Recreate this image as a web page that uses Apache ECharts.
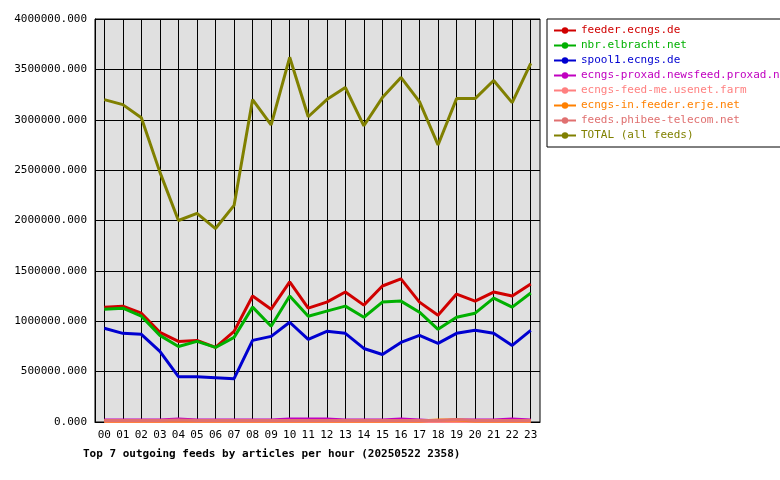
<!DOCTYPE html>
<html>
<head>
<meta charset="utf-8">
<script src="https://cdn.jsdelivr.net/npm/echarts@6/dist/echarts.min.js"></script>
<style>html,body{margin:0;background:#fff}#chart{width:780px;height:480px}</style>
</head>
<body>
<div id="chart"></div>
<script>
const hours = ['00','01','02','03','04','05','06','07','08','09','10','11','12','13','14','15','16','17','18','19','20','21','22','23'];
const feederEcngs = [1140000,1150000,1080000,890000,800000,810000,740000,900000,1250000,1120000,1390000,1130000,1190000,1290000,1160000,1350000,1420000,1190000,1060000,1270000,1200000,1290000,1250000,1370000];
const nbrElbracht = [1120000,1130000,1050000,860000,750000,800000,740000,840000,1140000,950000,1250000,1050000,1100000,1150000,1040000,1190000,1200000,1090000,920000,1040000,1080000,1230000,1140000,1280000];
const spool1 = [930000,880000,870000,700000,450000,450000,440000,430000,810000,850000,990000,820000,900000,880000,730000,670000,790000,860000,780000,880000,910000,880000,760000,910000];
const proxad = [20000,20000,20000,20000,30000,20000,20000,20000,20000,20000,30000,30000,30000,20000,20000,20000,30000,20000,10000,20000,20000,20000,30000,20000];
const usenetFarm = [5000,5000,5000,5000,5000,5000,5000,5000,5000,5000,5000,5000,5000,5000,5000,5000,5000,5000,5000,5000,5000,5000,5000,5000];
const erje = [10000,10000,10000,10000,10000,10000,10000,10000,10000,10000,10000,10000,10000,10000,10000,10000,10000,10000,20000,20000,10000,10000,10000,10000];
const phibee = [15000,15000,15000,15000,20000,15000,15000,15000,15000,15000,15000,15000,15000,15000,15000,15000,15000,15000,15000,25000,15000,15000,15000,15000];
const total = [3200000,3150000,3020000,2480000,2000000,2070000,1920000,2150000,3200000,2950000,3620000,3030000,3200000,3320000,2940000,3220000,3420000,3180000,2750000,3210000,3210000,3390000,3170000,3560000];

const seriesNames = ['feeder.ecngs.de','nbr.elbracht.net','spool1.ecngs.de','ecngs-proxad.newsfeed.proxad.net','ecngs-feed-me.usenet.farm','ecngs-in.feeder.erje.net','feeds.phibee-telecom.net','TOTAL (all feeds)'];
const seriesData = [feederEcngs, nbrElbracht, spool1, proxad, usenetFarm, erje, phibee, total];
const colors = ['#d00000','#00b000','#0000d0','#c000c0','#ff8080','#ff8000','#e07070','#808000'];

const font = 'DejaVu Sans Mono';
const chart = echarts.init(document.getElementById('chart'));
chart.setOption({
    animation: false,
    textStyle: {fontFamily: font},
    title: {
        text: 'Top 7 outgoing feeds by articles per hour (20250522 2358)',
        left: 78, top: 444,
        textStyle: {fontFamily: font, fontSize: 11, fontWeight: 'bold', color: '#000'}
    },
    legend: {
        orient: 'vertical', left: 547, top: 19, itemGap: 4,
        padding: [6, 8, 6, 6],
        borderColor: '#000', borderWidth: 1,
        itemWidth: 22, itemHeight: 8,
        textStyle: {fontFamily: font, fontSize: 11},
        data: seriesNames.map((n, i) => ({name: n, textStyle: {color: colors[i]}}))
    },
    grid: {left: 95, right: 240, top: 19, bottom: 58, backgroundColor: '#e0e0e0', show: true, borderColor: '#000', borderWidth: 1},
    xAxis: {
        type: 'category', data: hours, boundaryGap: true,
        axisLine: {lineStyle: {color: '#000'}},
        axisTick: {show: false, alignWithLabel: true},
        axisLabel: {color: '#000', fontFamily: font, fontSize: 11},
        splitLine: {show: true, alignWithLabel: true, lineStyle: {color: '#000', width: 1}}
    },
    yAxis: {
        type: 'value', min: 0, max: 4000000, interval: 500000,
        axisLine: {show: true, lineStyle: {color: '#000'}},
        axisTick: {show: false},
        axisLabel: {color: '#000', fontFamily: font, fontSize: 11, formatter: v => v.toFixed(3)},
        splitLine: {lineStyle: {color: '#000', width: 1}}
    },
    series: seriesNames.map((n, i) => ({
        name: n, type: 'line', data: seriesData[i],
        color: colors[i], symbol: 'circle', symbolSize: 3, showSymbol: false,
        lineStyle: {width: 3}
    }))
});
</script>
</body>
</html>
